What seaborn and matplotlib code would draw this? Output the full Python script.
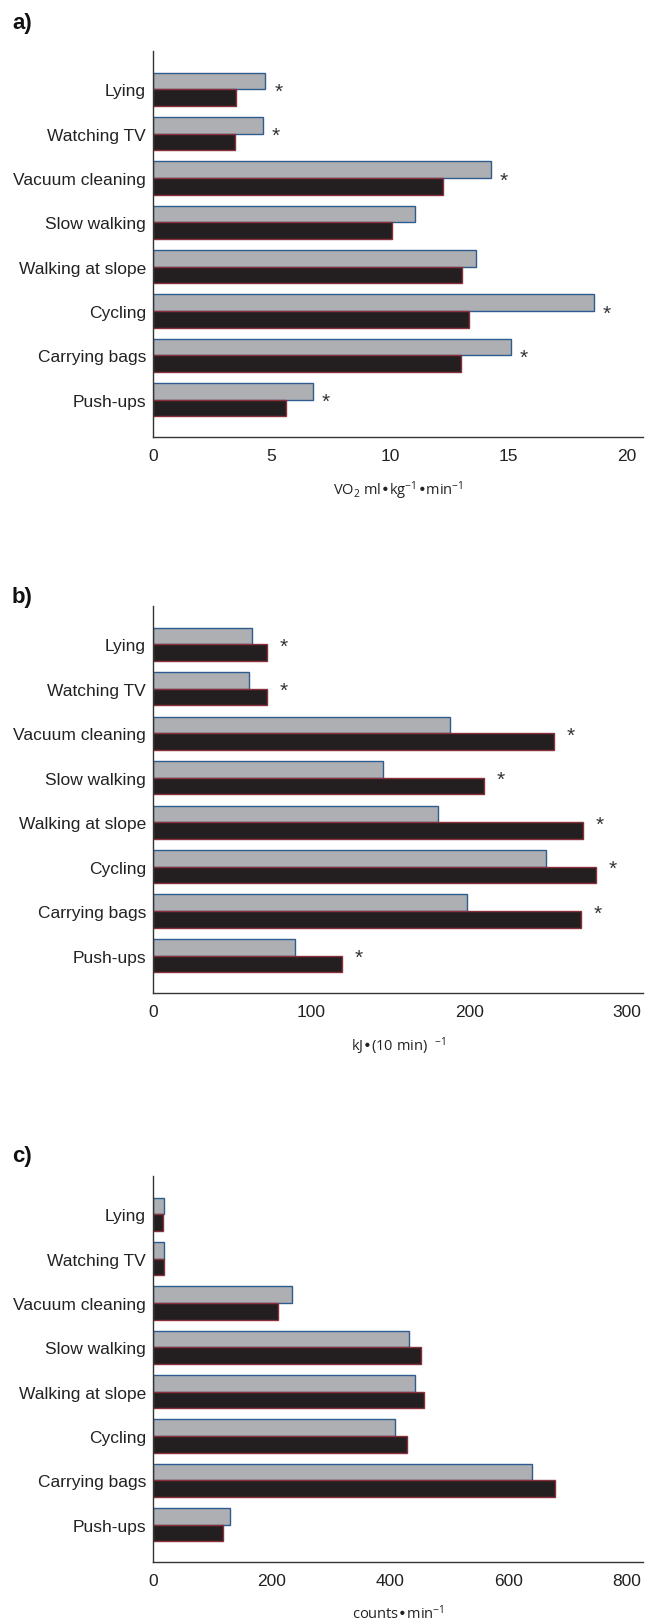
import matplotlib
matplotlib.use("Agg")
import matplotlib.pyplot as plt
import seaborn as sns
import pandas as pd

# ---------------- data ----------------
activities = ["Lying", "Watching TV", "Vacuum cleaning", "Slow walking",
              "Walking at slope", "Cycling", "Carrying bags", "Push-ups"]
groups = ["Group A", "Group B"]

vo2_a = [4.74, 4.63, 14.24, 11.04, 13.63, 18.59, 15.10, 6.74]
vo2_b = [3.49, 3.47, 12.23, 10.07, 13.04, 13.31, 12.99, 5.61]
vo2_sig = [True, True, True, False, False, True, True, True]
vo2_ticks = [0, 5, 10, 15, 20]

kj_a = [62.7, 60.9, 187.6, 145.7, 180.5, 248.9, 198.5, 89.9]
kj_b = [72.1, 72.3, 253.6, 209.7, 271.9, 280.3, 271.0, 119.7]
kj_sig = [True, True, True, True, True, True, True, True]
kj_ticks = [0, 100, 200, 300]

cnt_a = [19.4, 18.3, 234.8, 431.4, 442.9, 408.6, 640.0, 129.7]
cnt_b = [16.6, 18.9, 210.9, 453.1, 456.6, 428.6, 678.0, 117.7]
cnt_sig = [False] * 8
cnt_ticks = [0, 200, 400, 600, 800]

panel_labels = ["a)", "b)", "c)"]
xlabels = [r"VO$_2$ ml•kg$^{-1}$•min$^{-1}$",
           r"kJ•(10 min)  $^{-1}$",
           r"counts•min$^{-1}$"]

# ---------------- style ----------------
sns.set_style("white")
plt.rcParams["font.family"] = ["Liberation Sans", "DejaVu Sans"]
plt.rcParams["mathtext.default"] = "regular"

fill_a, edge_a = "#AEAFB3", "#2F5C8F"
fill_b, edge_b = "#231F20", "#8A2F3C"

W, H = 651, 1624
fig = plt.figure(figsize=(W / 100, H / 100), dpi=100)

left_px, right_px = 153, 643
panels = [
    dict(a=vo2_a, b=vo2_b, sig=vo2_sig, ticks=vo2_ticks, xmax=20.67, top=52, bot=438, lab_y=23, ast=9.5),
    dict(a=kj_a, b=kj_b, sig=kj_sig, ticks=kj_ticks, xmax=310, top=607, bot=994, lab_y=598, ast=12),
    dict(a=cnt_a, b=cnt_b, sig=cnt_sig, ticks=cnt_ticks, xmax=827, top=1177, bot=1563, lab_y=1157, ast=10),
]

for k, p in enumerate(panels):
    ax = fig.add_axes([left_px / W, 1 - p["bot"] / H,
                       (right_px - left_px) / W, (p["bot"] - p["top"]) / H])
    df = pd.DataFrame({
        "activity": activities * 2,
        "group": [groups[0]] * len(activities) + [groups[1]] * len(activities),
        "value": p["a"] + p["b"],
    })
    sns.barplot(data=df, y="activity", x="value", hue="group", order=activities,
                hue_order=groups, palette=[fill_a, fill_b], saturation=1,
                width=0.75, orient="h", errorbar=None, legend=False, ax=ax)
    for cont, ec in zip(ax.containers, [edge_a, edge_b]):
        for patch in cont:
            patch.set_edgecolor(ec)
            patch.set_linewidth(1.0)

    ax.set_ylim(7.84, -0.86)
    ax.set_xlim(0, p["xmax"])
    ax.set_xticks(p["ticks"])
    ax.set_xticklabels([str(t) for t in p["ticks"]])
    ax.set_ylabel("")
    ax.set_xlabel(xlabels[k], fontsize=10.5, labelpad=11,
                  family=["Open Sans", "DejaVu Sans"], color="#222222")
    sns.despine(ax=ax)
    for s in ["left", "bottom"]:
        ax.spines[s].set_color("#333333")
        ax.spines[s].set_linewidth(1.0)
    ax.tick_params(axis="y", length=0, pad=5, labelsize=12.5, labelcolor="#222222")
    ax.tick_params(axis="x", length=4, width=1, pad=4, labelsize=12.5,
                   direction="out", color="#333333", labelcolor="#222222")

    for i, (va_, vb_, s) in enumerate(zip(p["a"], p["b"], p["sig"])):
        if s:
            ax.annotate("*", xy=(max(va_, vb_), i), xytext=(p["ast"], -1.5),
                        textcoords="offset points", ha="center", va="center",
                        fontsize=15, color="#333333")

    fig.text(12 / W, 1 - p["lab_y"] / H, panel_labels[k], ha="left", va="center",
             fontsize=16, fontweight="bold",
             family=["Liberation Sans Narrow", "Liberation Sans"], color="#111111")

fig.savefig("out.png", dpi=100)
